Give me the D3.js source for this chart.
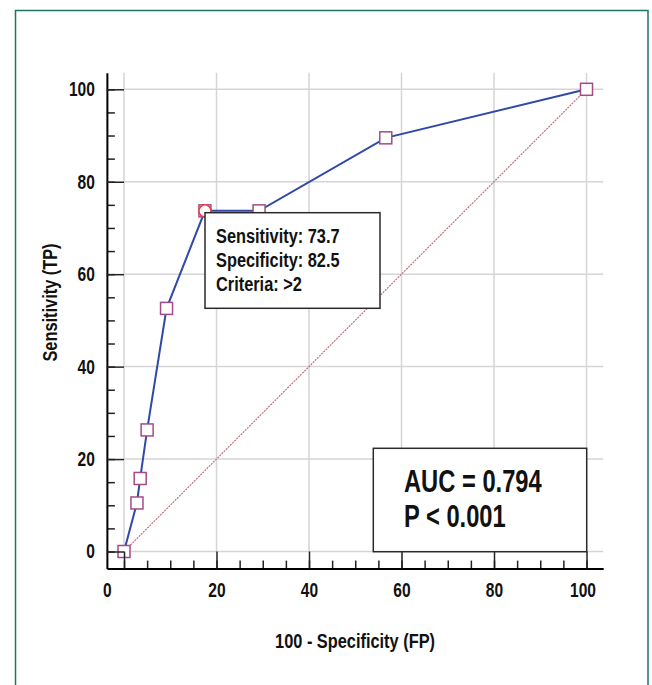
<!DOCTYPE html>
<html><head><meta charset="utf-8">
<script src="https://cdn.jsdelivr.net/npm/d3@7"></script>
<style>html,body{margin:0;padding:0;background:#fff}</style>
</head><body><svg id="c" width="652" height="685"></svg>
<script>
// ---- data ----
const fpr = [0, 2.8, 3.5, 5.0, 9.2, 17.5, 29.2, 56.6, 100];
const tpr = [0, 10.5, 15.8, 26.3, 52.6, 73.7, 73.7, 89.5, 100];
const cutoffIndex = 5;
const majorTicks = [0, 20, 40, 60, 80, 100];
const minorTicks = [0, 5, 10, 15, 20, 25, 30, 35, 40, 45, 50, 55, 60, 65, 70, 75, 80, 85, 90, 95, 100];
const infoLines = ["Sensitivity: 73.7", "Specificity: 82.5", "Criteria: >2"];
const statLines = ["AUC = 0.794", "P < 0.001"];
const xTitle = "100 - Specificity (FP)";
const yTitle = "Sensitivity (TP)";

// ---- font detection ----
function tw(font){const c=document.createElement('canvas').getContext('2d');c.font=font;return c.measureText('Sensitivity 0123 ABC').width;}
const narrowOK = tw("bold 20px 'Liberation Sans Narrow', monospace") !== tw("bold 20px monospace");
const FAM = narrowOK ? "'Liberation Sans Narrow','Arial Narrow',sans-serif" : "'Liberation Sans',Arial,sans-serif";
const SX = (narrowOK ? 1 : 0.82) * 0.95;
const K = 1.05;

const svg = d3.select('#c');
svg.append('rect').attr('width',652).attr('height',685).attr('fill','#fff');
svg.append('rect').attr('x',15.5).attr('y',10.5).attr('width',632.5).attr('height',720)
  .attr('fill','none').attr('stroke','#1a7563').attr('stroke-width',1.5);

const x = d3.scaleLinear().domain([0,100]).range([124,586.5]);
const y = d3.scaleLinear().domain([0,100]).range([551.5,89.3]);
const lo = -3.7, hi = 103.6;
const xa = x.copy().domain([lo,hi]).range([x(lo),x(hi)]);
const ya = y.copy().domain([lo,hi]).range([y(lo),y(hi)]);

function txt(g, s, px, py, size, anchor){
  return g.append('text').text(s)
    .attr('transform',`translate(${px},${py}) scale(${SX},1)`)
    .attr('font-family',FAM).attr('font-weight','bold').attr('font-size',size*K)
    .attr('text-anchor',anchor||'start').attr('fill','#111');
}

// grid
const grid = svg.append('g').attr('stroke','#d5d5d5').attr('stroke-width',1.5);
grid.selectAll('.gv').data(majorTicks).join('line')
  .attr('x1',d=>x(d)).attr('x2',d=>x(d)).attr('y1',y(0)).attr('y2',y(hi));
grid.selectAll('.gh').data(majorTicks).join('line')
  .attr('y1',d=>y(d)).attr('y2',d=>y(d)).attr('x1',x(0)).attr('x2',x(hi));

// diagonal
svg.append('line').attr('x1',x(0)).attr('y1',y(0)).attr('x2',x(100)).attr('y2',y(100))
  .attr('stroke','#c0707a').attr('stroke-width',1.2).attr('stroke-dasharray','2,1');

// ROC line
const pts = fpr.map((v,i)=>[v,tpr[i]]);
svg.append('path').datum(pts).attr('d',d3.line().x(d=>x(d[0])).y(d=>y(d[1])))
  .attr('fill','none').attr('stroke','#3048a8').attr('stroke-width',2);

// markers
const ms = 12;
svg.selectAll('.mk').data(pts).join('rect')
  .attr('x',d=>x(d[0])-ms/2).attr('y',d=>y(d[1])-ms/2).attr('width',ms).attr('height',ms)
  .attr('fill','#fff').attr('stroke','#a64a86').attr('stroke-width',1.5);
svg.append('circle').attr('cx',x(fpr[cutoffIndex])).attr('cy',y(tpr[cutoffIndex])).attr('r',6)
  .attr('fill','#fff').attr('stroke','#f03c3c').attr('stroke-width',1.5);

// axes
const tickLen = x(0)-x(lo);
function styleAxis(g){
  g.select('.domain').attr('stroke','#000').attr('stroke-width',2);
  g.selectAll('.tick line').attr('stroke','#222').attr('stroke-width',1.5);
}
const xMinor = svg.append('g').attr('transform',`translate(0,${ya(lo)})`)
  .call(d3.axisBottom(xa).tickValues(minorTicks).tickSizeInner(-8).tickSizeOuter(0).tickFormat(''));
xMinor.select('.domain').remove(); styleAxis(xMinor);
const yMinor = svg.append('g').attr('transform',`translate(${xa(lo)},0)`)
  .call(d3.axisLeft(ya).tickValues(minorTicks).tickSizeInner(-8).tickSizeOuter(0).tickFormat(''));
yMinor.select('.domain').remove(); styleAxis(yMinor);

const xAx = svg.append('g').attr('transform',`translate(0,${ya(lo)})`)
  .call(d3.axisBottom(xa).tickValues(majorTicks).tickSizeInner(-tickLen).tickSizeOuter(0).tickPadding(14.5));
styleAxis(xAx);
xAx.selectAll('.tick text').attr('font-family',FAM).attr('font-weight','bold').attr('font-size',19*K).attr('fill','#111')
  .attr('transform',`scale(${SX},1)`)
  .attr('x',d=> d===0 ? (xa(lo)-xa(0))/SX : (d===100 ? -4/SX : 0));
const yAx = svg.append('g').attr('transform',`translate(${xa(lo)},0)`)
  .call(d3.axisLeft(ya).tickValues(majorTicks).tickSizeInner(-tickLen).tickSizeOuter(0).tickPadding(12));
styleAxis(yAx);
yAx.selectAll('.tick text').attr('font-family',FAM).attr('font-weight','bold').attr('font-size',19*K).attr('fill','#111')
  .attr('transform',`scale(${SX},1)`).attr('x',-12/SX);

// titles
txt(svg, xTitle, (xa(lo)+xa(hi))/2, 647.5, 20, 'middle');
svg.append('text').text(yTitle)
  .attr('transform',`translate(56.5,302.5) rotate(-90) scale(${SX},1)`)
  .attr('font-family',FAM).attr('font-weight','bold').attr('font-size',20*K)
  .attr('text-anchor','middle').attr('fill','#111');

// info box
const ib = svg.append('g');
ib.append('rect').attr('x',205).attr('y',212.7).attr('width',175).attr('height',95.6)
  .attr('fill','#fff').attr('stroke','#2a2a2a').attr('stroke-width',1.5);
infoLines.forEach((s,i)=>txt(ib, s, 216, 242.5 + i*24.3, 20));

// stat box
const sb = svg.append('g');
sb.append('rect').attr('x',373.3).attr('y',448.3).attr('width',213.4).attr('height',103.4)
  .attr('fill','#fff').attr('stroke','#2a2a2a').attr('stroke-width',1.5);
statLines.forEach((s,i)=>txt(sb, s, 404, 492 + i*35, 29));
</script></body></html>
